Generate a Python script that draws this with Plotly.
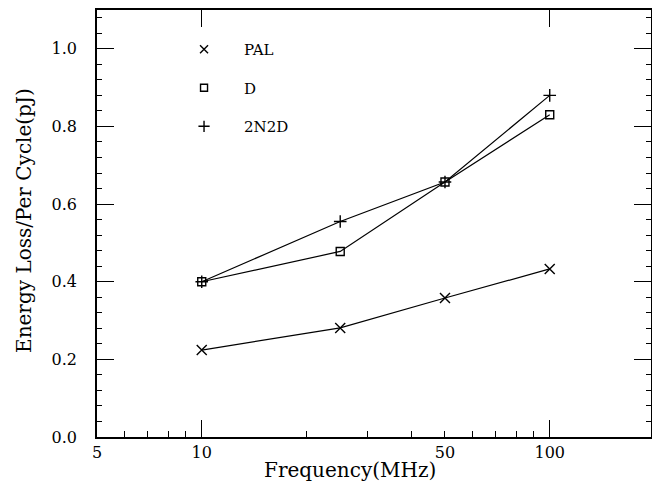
import plotly.graph_objects as go

# Data
freq = [10, 25, 50, 100]
pal = [0.224, 0.281, 0.358, 0.433]
d = [0.400, 0.478, 0.657, 0.830]
n2d = [0.400, 0.555, 0.657, 0.880]

# name, values, symbol, marker size on curve, marker size in legend
series = [
    ("PAL", pal, "x-thin-open", 10, 8),
    ("D", d, "square-open", 8, 7),
    ("2N2D", n2d, "cross-thin-open", 9, 8),
]

x_labels = [5, 10, 50, 100]
x_major = [10, 100]
x_minor = [6, 7, 8, 9, 20, 30, 40, 50, 60, 70, 80, 90]
y_labels = [0, 0.2, 0.4, 0.6, 0.8, 1.0]

font = "DejaVu Serif"
x_range = [0.699, 2.291]

fig = go.Figure()

for name, vals, sym, size, lsize in series:
    fig.add_trace(go.Scatter(
        x=freq, y=vals, mode="lines+markers", showlegend=False,
        line=dict(color="black", width=1.2),
        marker=dict(symbol=sym, size=size, color="black", line=dict(color="black", width=1.4)),
    ))
    # legend-only entry (marker without line)
    fig.add_trace(go.Scatter(
        x=[None], y=[None], mode="markers", name=name, legendgroup=name,
        marker=dict(symbol=sym, size=lsize, color="black", line=dict(color="black", width=1.4)),
    ))

# overlay axis carrying the long major ticks
fig.add_trace(go.Scatter(x=[None], y=[None], xaxis="x2", showlegend=False))

fig.update_layout(
    width=652, height=489,
    margin=dict(l=97, r=1, t=10, b=52),
    plot_bgcolor="white", paper_bgcolor="white",
    font=dict(family=font, color="black", size=16),
    xaxis=dict(
        type="log", range=x_range, automargin=False,
        tickvals=x_labels, ticktext=[str(v) for v in x_labels],
        ticks="", showgrid=False, zeroline=False,
        showline=True, linecolor="black", linewidth=1.6, mirror=True,
        minor=dict(tickmode="array", tickvals=x_minor, ticks="inside",
                   ticklen=6, tickwidth=1.2, tickcolor="black", showgrid=False),
        tickfont=dict(size=16, color="black"),
    ),
    xaxis2=dict(
        type="log", range=x_range, overlaying="x", side="bottom",
        tickvals=x_major, showticklabels=False, ticks="inside", automargin=False,
        ticklen=17, tickwidth=1.2, tickcolor="black", showgrid=False,
        zeroline=False, showline=False, mirror="ticks",
    ),
    yaxis=dict(
        range=[0, 1.1], tickvals=y_labels, automargin=False,
        tickformat=".1f", ticks="inside", ticklen=17, tickwidth=1.2, tickcolor="black",
        showgrid=False, zeroline=False, ticklabelstandoff=15,
        showline=True, linecolor="black", linewidth=1.6, mirror="ticks",
        minor=dict(dtick=0.04, tick0=0, ticks="inside", ticklen=5,
                   tickwidth=1.2, tickcolor="black", showgrid=False),
        tickfont=dict(size=16, color="black"),
    ),
    legend=dict(
        x=0.121, y=0.946, xanchor="left", yanchor="top",
        bgcolor="rgba(0,0,0,0)", font=dict(size=15, color="black"),
        tracegroupgap=16, itemwidth=70,
    ),
    annotations=[
        dict(text="Frequency(MHz)", xref="paper", yref="paper",
             x=0.457, y=-0.077, xanchor="center", yanchor="middle",
             showarrow=False, font=dict(size=20, color="black")),
        dict(text="Energy Loss/Per Cycle(pJ)", xref="paper", yref="paper",
             x=-0.132, y=0.508, xanchor="center", yanchor="middle", textangle=-90,
             showarrow=False, font=dict(size=20, color="black")),
    ],
)

fig.write_html("out.html", config={"displayModeBar": False},
               post_script="document.body.style.margin='0';")
